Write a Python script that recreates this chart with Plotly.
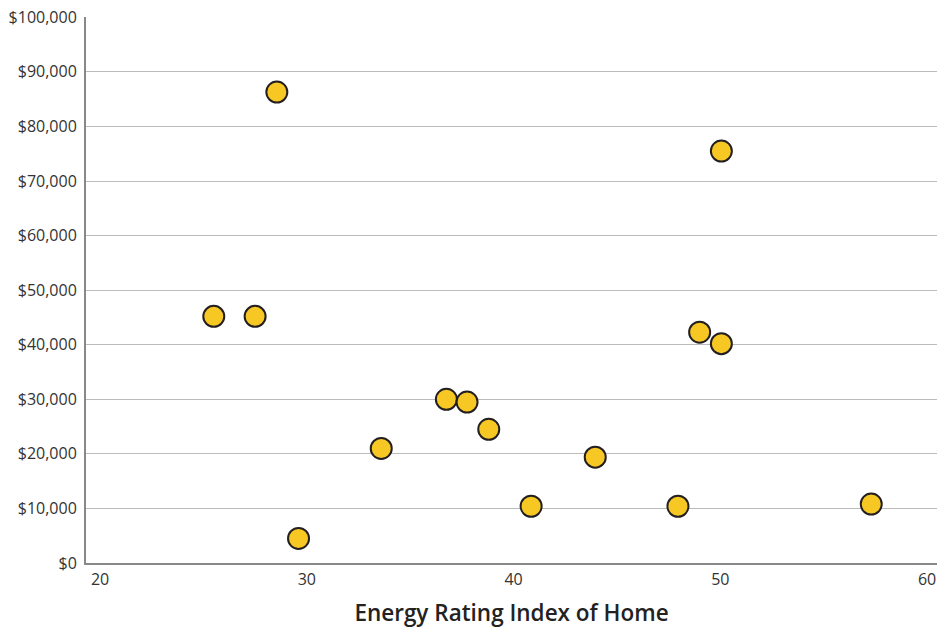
import plotly.graph_objects as go

energy_rating = [25.5, 27.5, 28.55, 29.6, 33.6, 36.75, 37.75, 38.8, 40.85, 43.95, 47.95, 49.0, 50.05, 50.05, 57.3]
value = [45200, 45200, 86300, 4500, 21000, 30000, 29500, 24500, 10400, 19400, 10400, 42300, 75500, 40200, 10800]

x_ticks = [20, 30, 40, 50, 60]
y_ticks = [0, 10000, 20000, 30000, 40000, 50000, 60000, 70000, 80000, 90000, 100000]
y_tick_labels = ["$0", "$10,000", "$20,000", "$30,000", "$40,000", "$50,000",
                 "$60,000", "$70,000", "$80,000", "$90,000", "$100,000"]

fig = go.Figure(go.Scatter(
    x=energy_rating, y=value, mode="markers",
    marker=dict(size=21, color="#F7C824", line=dict(color="#231F20", width=2)),
    hoverinfo="x+y",
))

fig.update_layout(
    width=939, height=628,
    margin=dict(l=86, r=2, t=17, b=65),
    paper_bgcolor="white", plot_bgcolor="white",
    font=dict(family="Open Sans, sans-serif", size=16, color="#333333"),
    showlegend=False,
)
fig.update_xaxes(
    range=[19.32, 60.48], tickvals=x_ticks, ticktext=[str(v) for v in x_ticks],
    showgrid=False, showline=True, linecolor="#888888", linewidth=2,
    ticks="", ticklabelstandoff=1, zeroline=False, automargin=False,
    title=dict(text="Energy Rating Index of Home",
               font=dict(size=22.5, color="#222222", weight=600), standoff=23),
)
fig.update_yaxes(
    range=[0, 100060], tickvals=y_ticks, ticktext=y_tick_labels,
    showgrid=True, gridcolor="#BBBBBB", gridwidth=1,
    showline=True, linecolor="#888888", linewidth=2,
    ticks="", ticklabelstandoff=4, zeroline=False,
)

fig.write_html(
    "out.html",
    config={"displayModeBar": False},
    post_script="document.body.style.margin='0';document.body.style.overflow='hidden';",
)
